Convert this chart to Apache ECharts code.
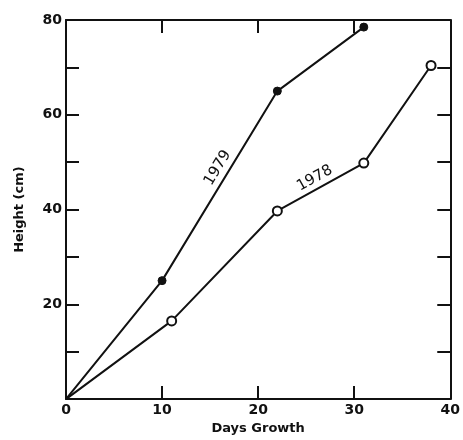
<!DOCTYPE html>
<html><head><meta charset="utf-8">
<script src="https://cdn.jsdelivr.net/npm/echarts@6/dist/echarts.min.js"></script>
<style>html,body{margin:0;padding:0;background:#fff}#c{width:463px;height:440px}</style>
</head><body><div id="c"></div>
<script>
const data1979 = [[0,0],[10,25],[22,65],[31,78.5]];
const data1978 = [[0,0],[11,16.5],[22,39.7],[31,49.8],[38,70.4]];
const xTicks = [0,10,20,30,40];
const yTickLabels = [20,40,60,80];
const label1979 = {text:'1979', at:[15.8,48.8], angle:59};
const label1978 = {text:'1978', at:[25.9,46.6], angle:29};

const FONT = 'DejaVu Sans';
const ink = '#111';
// origin point is drawn without a marker, as in the reference
const toItems = arr => arr.map(p => (p[0] === 0 && p[1] === 0) ? {value:p, symbol:'none'} : {value:p});
const chart = echarts.init(document.getElementById('c'), null, {renderer:'canvas'});
const axisCommon = {
  type:'value', min:0, max:40, interval:10,
  axisLine:{show:true, onZero:false, lineStyle:{color:ink, width:2}},
  axisTick:{show:true, inside:true, length:13, lineStyle:{color:ink, width:2}},
  splitLine:{show:false}
};
chart.setOption({
  animation:false,
  backgroundColor:'#fff',
  grid:{left:66, right:11, top:20, bottom:36, containLabel:false},
  xAxis:[
    Object.assign({}, axisCommon, {
      position:'bottom', name:'Days Growth', nameLocation:'middle', nameGap:22,
      nameTextStyle:{fontFamily:FONT, fontWeight:'bold', fontSize:13, color:ink},
      axisLabel:{show:true, margin:4, fontFamily:FONT, fontWeight:'bold', fontSize:14, color:ink,
        formatter:v => xTicks.includes(v) ? String(v) : ''}
    }),
    Object.assign({}, axisCommon, {position:'top', axisLabel:{show:false}})
  ],
  yAxis:[
    Object.assign({}, axisCommon, {
      max:80, position:'left', name:'Height (cm)', nameLocation:'middle', nameGap:40,
      nameTextStyle:{fontFamily:FONT, fontWeight:'bold', fontSize:13, color:ink},
      axisLabel:{show:true, margin:4, fontFamily:FONT, fontWeight:'bold', fontSize:14, color:ink,
        formatter:v => yTickLabels.includes(v) ? String(v) : ''}
    }),
    Object.assign({}, axisCommon, {max:80, position:'right', axisLabel:{show:false}})
  ],
  series:[
    {type:'line', data:toItems(data1979), symbol:'circle', symbolSize:8, showAllSymbol:true,
     lineStyle:{color:ink, width:2}, itemStyle:{color:ink, borderColor:ink, borderWidth:1},
     z:3,
     markPoint:{symbol:'circle', symbolSize:1, itemStyle:{color:'rgba(0,0,0,0)'},
       data:[{coord:label1979.at, value:label1979.text,
         label:{show:true, position:'inside', formatter:label1979.text, rotate:label1979.angle,
           fontFamily:FONT, fontSize:15, color:ink}}]}},
    {type:'line', data:toItems(data1978), symbol:'circle', symbolSize:9, showAllSymbol:true,
     lineStyle:{color:ink, width:2}, itemStyle:{color:'#fff', borderColor:ink, borderWidth:2},
     z:3,
     markPoint:{symbol:'circle', symbolSize:1, itemStyle:{color:'rgba(0,0,0,0)'},
       data:[{coord:label1978.at, value:label1978.text,
         label:{show:true, position:'inside', formatter:label1978.text, rotate:label1978.angle,
           fontFamily:FONT, fontSize:15, color:ink}}]}}
  ]
});
</script></body></html>
